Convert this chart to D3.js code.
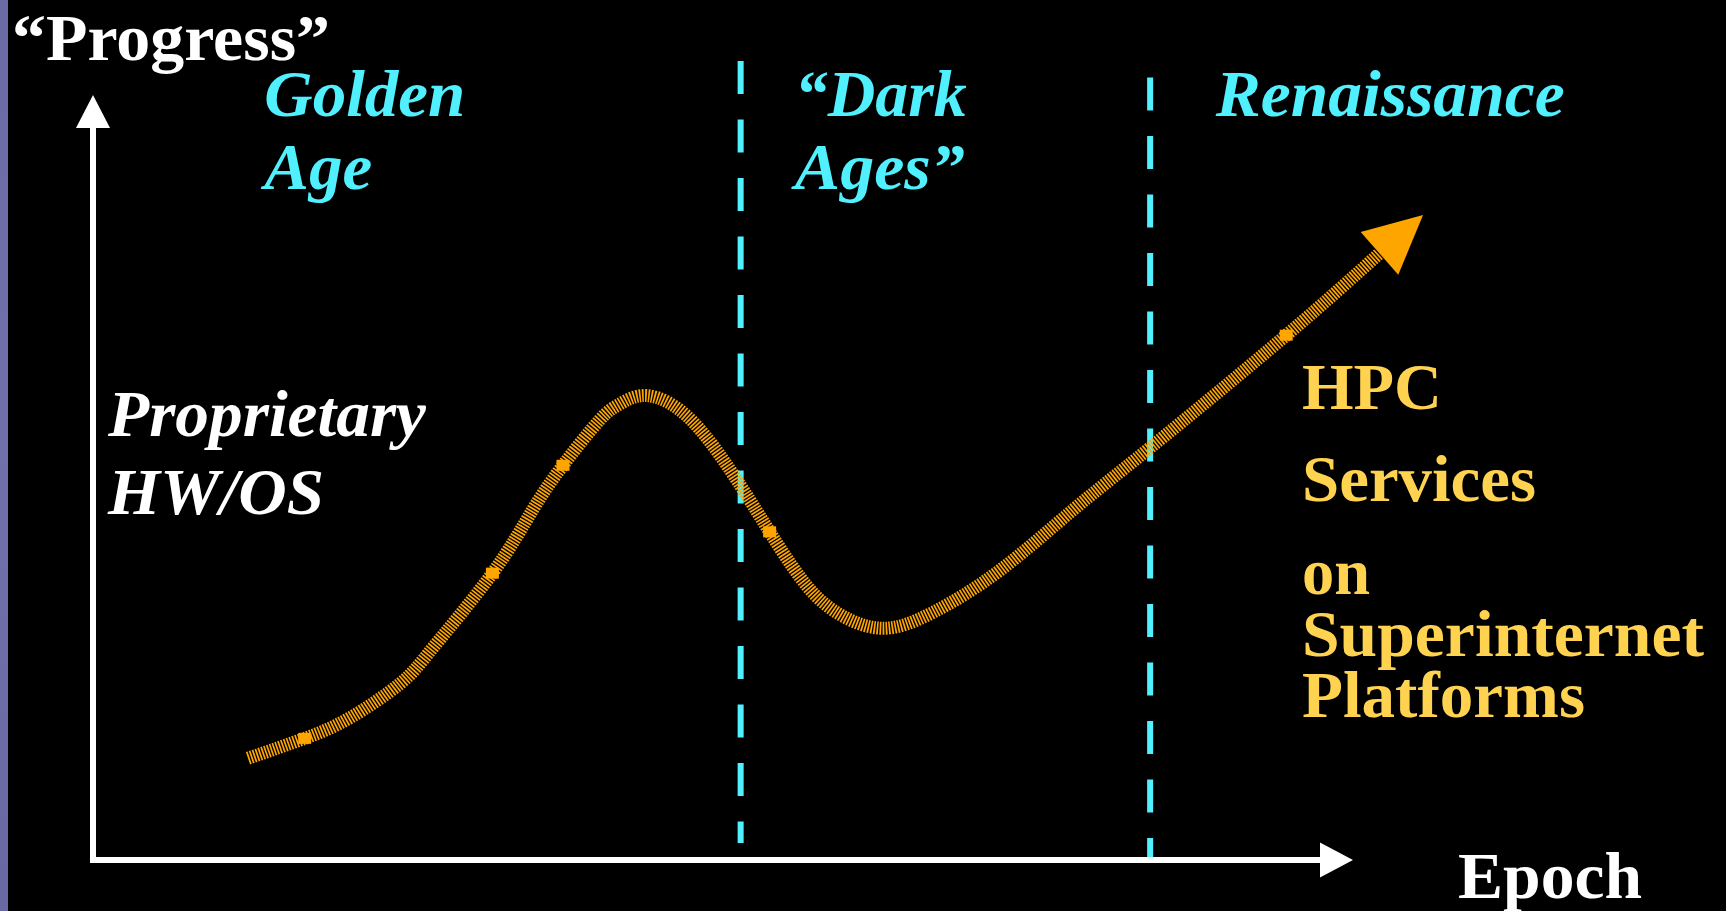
<!DOCTYPE html>
<html>
<head>
<meta charset="utf-8">
<script src="https://cdn.jsdelivr.net/npm/d3@7"></script>
<style>
  html, body { margin: 0; padding: 0; background: #000; overflow: hidden; }
  svg { display: block; }
  text { font-family: "Liberation Serif", "Times New Roman", Times, serif; font-weight: bold; }
</style>
</head>
<body>
<svg id="chart" width="1726" height="911"></svg>
<script>
// Progress curve across the epochs (epoch units, progress units)
const curveEpoch = [12.3, 16.8, 20.4, 24.4, 27.0, 31.7, 34.9, 37.3, 40.2, 41.8, 44.0, 47.6, 51.4, 53.7, 56.1, 58.7, 62.5, 66.7, 72.0, 77.8, 83.9, 94.7, 102.1];
const curveLevel = [13.3, 15.9, 18.6, 23.1, 27.8, 37.5, 45.8, 51.6, 57.5, 59.6, 60.7, 57.3, 48.9, 42.9, 37.0, 32.7, 30.3, 32.4, 37.9, 45.8, 53.9, 68.6, 79.3];
// vertices of the curve that carry a solid marker
const markerIndex = [1, 5, 7, 13, 21];

// boundaries between eras and their names
const eraBounds = [51.4, 83.9];
const eraNames = [["Golden", "Age"], ["\u201CDark", "Ages\u201D"], ["Renaissance"]];
const eraStart = [13.6, 55.7, 89.1];

// axis titles and annotations
const yTitle = "\u201CProgress\u201D";
const xTitle = "Epoch";
const leftNote = ["Proprietary", "HW/OS"];
const rightNote = ["HPC", "Services", "on", "Superinternet", "Platforms"];

const W = 1726, H = 911;
const svg = d3.select("#chart");

const x = d3.scaleLinear().domain([0, 100]).range([93, 1353]);
const y = d3.scaleLinear().domain([0, 100]).range([860, 95]);

// background and left edge band
svg.append("rect").attr("width", W).attr("height", H).attr("fill", "#000");
const band = svg.append("defs").append("linearGradient").attr("id", "band")
  .attr("x1", 0).attr("x2", 0).attr("y1", 0).attr("y2", 1);
band.append("stop").attr("offset", 0).attr("stop-color", "#6a6aa4");
band.append("stop").attr("offset", 0.5).attr("stop-color", "#7070aa");
band.append("stop").attr("offset", 1).attr("stop-color", "#6868a2");
svg.append("rect").attr("x", 0).attr("y", 0).attr("width", 8).attr("height", H).attr("fill", "url(#band)");

const cyan = "#50f0ff";
const orange = "#ffa500";
const gold = "#ffd24f";

// era boundaries (dashed)
const dashStart = [61, 77.5];
const dashEnd = [843, 858];
svg.selectAll("line.era").data(eraBounds).join("line")
  .attr("class", "era")
  .attr("x1", d => x(d)).attr("x2", d => x(d))
  .attr("y1", (d, i) => dashStart[i]).attr("y2", (d, i) => dashEnd[i])
  .attr("stroke", cyan).attr("stroke-width", 6)
  .attr("stroke-dasharray", "33 25.5");

// axes with arrowheads
const axisColor = "#fff";
svg.append("line").attr("x1", x(0)).attr("x2", x(0)).attr("y1", 863).attr("y2", y(95.7))
  .attr("stroke", axisColor).attr("stroke-width", 6);
svg.append("path")
  .attr("d", `M${x(0)},${y(100)} L${x(0) + 17},${y(100) + 33} L${x(0) - 17},${y(100) + 33} Z`)
  .attr("fill", axisColor);
svg.append("line").attr("x1", x(0) - 3).attr("x2", x(97.4)).attr("y1", y(0)).attr("y2", y(0))
  .attr("stroke", axisColor).attr("stroke-width", 6);
svg.append("path")
  .attr("d", `M${x(100)},${y(0)} L${x(100) - 33},${y(0) - 17.5} L${x(100) - 33},${y(0) + 17.5} Z`)
  .attr("fill", axisColor);

// progress curve, hatched
const pts = curveEpoch.map((e, i) => [x(e), y(curveLevel[i])]);
const line = d3.line().curve(d3.curveNatural);
svg.append("path").attr("d", line(pts))
  .attr("fill", "none").attr("stroke", orange).attr("stroke-width", 13)
  .attr("stroke-dasharray", "1.7 1.3").attr("stroke-linecap", "butt");

// arrowhead at the end of the curve
const [bx, by] = pts[pts.length - 1];
const [px, py] = pts[pts.length - 2];
const len = Math.hypot(bx - px, by - py);
const ux = (bx - px) / len, uy = (by - py) / len;
const head = 58, half = 28.5;
svg.append("path")
  .attr("d", `M${bx + ux * head},${by + uy * head} L${bx - uy * half},${by + ux * half} L${bx + uy * half},${by - ux * half} Z`)
  .attr("fill", orange);

// solid markers on the curve
svg.selectAll("rect.mark").data(markerIndex).join("rect")
  .attr("class", "mark")
  .attr("x", i => pts[i][0] - 6.5).attr("y", i => pts[i][1] - 5.5)
  .attr("width", 13).attr("height", 11).attr("fill", orange);

// text helper: fixed size, stretched to the given run length
function label(str, px, py, opts) {
  const t = svg.append("text").attr("x", px).attr("y", py)
    .attr("font-size", opts.size || 66).attr("fill", opts.fill)
    .attr("font-style", opts.italic ? "italic" : "normal")
    .text(str);
  if (opts.width) t.attr("textLength", opts.width).attr("lengthAdjust", "spacingAndGlyphs");
  return t;
}

// axis titles
label(yTitle, 12, 60, { fill: "#fff", width: 318 });
label(xTitle, 1458, 898, { fill: "#fff", width: 184 });

// era names
const eraLineY = [116, 189];
const eraWidths = [[201, 108], [172, 170], [349]];
eraNames.forEach((lines, k) => {
  lines.forEach((s, j) => label(s, x(eraStart[k]), eraLineY[j], { fill: cyan, italic: true, width: eraWidths[k][j] }));
});

// annotations
const leftY = [436, 514];
const leftW = [318, 216];
leftNote.forEach((s, j) => label(s, 108, leftY[j], { fill: "#fff", italic: true, width: leftW[j] }));
const rightY = [409, 501, 594, 656, 717];
const rightW = [140, 234, 68, 402, 283];
rightNote.forEach((s, j) => label(s, 1302, rightY[j], { fill: gold, width: rightW[j] }));
</script>
</body>
</html>
